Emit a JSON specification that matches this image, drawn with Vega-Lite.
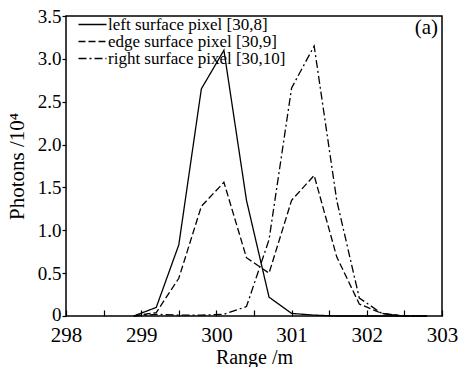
{
  "$schema": "https://vega.github.io/schema/vega-lite/v6.json",
  "width": 376,
  "height": 300,
  "autosize": {"type": "none"},
  "padding": {"left": 66, "top": 16, "right": 18, "bottom": 51},
  "background": "white",
  "config": {
    "view": {"stroke": "black", "strokeWidth": 1.5},
    "font": "Liberation Serif",
    "axis": {"labelFont": "Liberation Serif", "titleFont": "Liberation Serif"},
    "legend": {"labelFont": "Liberation Serif"},
    "text": {"font": "Liberation Serif"}
  },
  "data": {"values": [
    {"x": 298.9, "v": 0.0, "s": "left surface pixel [30,8]"},
    {"x": 299.2, "v": 0.1, "s": "left surface pixel [30,8]"},
    {"x": 299.5, "v": 0.83, "s": "left surface pixel [30,8]"},
    {"x": 299.8, "v": 2.65, "s": "left surface pixel [30,8]"},
    {"x": 300.1, "v": 3.1, "s": "left surface pixel [30,8]"},
    {"x": 300.4, "v": 1.35, "s": "left surface pixel [30,8]"},
    {"x": 300.7, "v": 0.22, "s": "left surface pixel [30,8]"},
    {"x": 301.0, "v": 0.03, "s": "left surface pixel [30,8]"},
    {"x": 301.3, "v": 0.01, "s": "left surface pixel [30,8]"},
    {"x": 301.6, "v": 0.0, "s": "left surface pixel [30,8]"},
    {"x": 301.9, "v": 0.0, "s": "left surface pixel [30,8]"},
    {"x": 302.2, "v": 0.0, "s": "left surface pixel [30,8]"},
    {"x": 302.5, "v": 0.0, "s": "left surface pixel [30,8]"},
    {"x": 302.8, "v": 0.0, "s": "left surface pixel [30,8]"},
    {"x": 298.9, "v": 0.0, "s": "edge surface pixel [30,9]"},
    {"x": 299.2, "v": 0.04, "s": "edge surface pixel [30,9]"},
    {"x": 299.5, "v": 0.44, "s": "edge surface pixel [30,9]"},
    {"x": 299.8, "v": 1.28, "s": "edge surface pixel [30,9]"},
    {"x": 300.1, "v": 1.56, "s": "edge surface pixel [30,9]"},
    {"x": 300.4, "v": 0.68, "s": "edge surface pixel [30,9]"},
    {"x": 300.7, "v": 0.5, "s": "edge surface pixel [30,9]"},
    {"x": 301.0, "v": 1.35, "s": "edge surface pixel [30,9]"},
    {"x": 301.3, "v": 1.64, "s": "edge surface pixel [30,9]"},
    {"x": 301.6, "v": 0.69, "s": "edge surface pixel [30,9]"},
    {"x": 301.9, "v": 0.14, "s": "edge surface pixel [30,9]"},
    {"x": 302.2, "v": 0.03, "s": "edge surface pixel [30,9]"},
    {"x": 302.5, "v": 0.0, "s": "edge surface pixel [30,9]"},
    {"x": 302.8, "v": 0.0, "s": "edge surface pixel [30,9]"},
    {"x": 298.9, "v": 0.0, "s": "right surface pixel [30,10]"},
    {"x": 299.2, "v": 0.02, "s": "right surface pixel [30,10]"},
    {"x": 299.5, "v": 0.01, "s": "right surface pixel [30,10]"},
    {"x": 299.8, "v": 0.01, "s": "right surface pixel [30,10]"},
    {"x": 300.1, "v": 0.02, "s": "right surface pixel [30,10]"},
    {"x": 300.4, "v": 0.11, "s": "right surface pixel [30,10]"},
    {"x": 300.7, "v": 0.89, "s": "right surface pixel [30,10]"},
    {"x": 301.0, "v": 2.66, "s": "right surface pixel [30,10]"},
    {"x": 301.3, "v": 3.15, "s": "right surface pixel [30,10]"},
    {"x": 301.6, "v": 1.35, "s": "right surface pixel [30,10]"},
    {"x": 301.9, "v": 0.21, "s": "right surface pixel [30,10]"},
    {"x": 302.2, "v": 0.03, "s": "right surface pixel [30,10]"},
    {"x": 302.5, "v": 0.0, "s": "right surface pixel [30,10]"},
    {"x": 302.8, "v": 0.0, "s": "right surface pixel [30,10]"}
  ]},
  "layer": [
    {
      "mark": {"type": "line", "color": "black", "strokeWidth": 1.3},
      "encoding": {
        "x": {"field": "x", "type": "quantitative",
          "scale": {"domain": [298, 303], "nice": false, "zero": false},
          "axis": {"title": "Range /m", "values": [298, 298.5, 299, 299.5, 300, 300.5, 301, 301.5, 302, 302.5, 303],
            "labelExpr": "datum.value % 1 == 0 ? format(datum.value, 'd') : ''",
            "grid": false, "domain": false, "tickSize": -6, "tickColor": "black", "tickWidth": 1.2,
            "labelFontSize": 21, "labelColor": "black", "labelPadding": 14, "labelFlush": false,
            "titleFontSize": 20, "titleFontWeight": "normal", "titleColor": "black", "titlePadding": 2}},
        "y": {"field": "v", "type": "quantitative",
          "scale": {"domain": [0, 3.5], "nice": false},
          "axis": {"title": "Photons /10⁴", "values": [0, 0.5, 1, 1.5, 2, 2.5, 3, 3.5],
            "labelExpr": "datum.value == 0 ? '0' : format(datum.value, '.1f')",
            "labelBaseline": {"condition": {"test": "datum.value == 0", "value": "alphabetic"}, "value": "middle"},
            "labelOffset": {"condition": {"test": "datum.value == 0", "value": 4}, "value": 0},
            "grid": false, "domain": false, "tickSize": 4, "tickColor": "black", "tickWidth": 1.2,
            "labelFontSize": 19, "labelColor": "black", "labelPadding": 1,
            "titleFontSize": 21, "titleFontWeight": "normal", "titleColor": "black", "titlePadding": 10}},
        "strokeDash": {"field": "s", "type": "nominal",
          "scale": {"domain": ["left surface pixel [30,8]", "edge surface pixel [30,9]", "right surface pixel [30,10]"],
            "range": [[1, 0], [7, 3], [8, 3, 2, 3]]},
          "legend": {"title": null, "orient": "none", "legendX": 18, "legendY": 0,
            "symbolType": "M-2,0H2", "symbolSize": 196, "symbolStrokeColor": "black", "symbolStrokeWidth": 1.3,
            "labelFontSize": 17, "labelColor": "black", "labelOffset": 7, "labelLimit": 0, "rowPadding": -2, "padding": 0}}
      }
    },
    {
      "data": {"values": [{"t": "(a)"}]},
      "mark": {"type": "text", "fontSize": 21, "color": "black", "align": "right", "baseline": "top", "x": 372, "y": 1},
      "encoding": {"text": {"field": "t"}}
    }
  ]
}
